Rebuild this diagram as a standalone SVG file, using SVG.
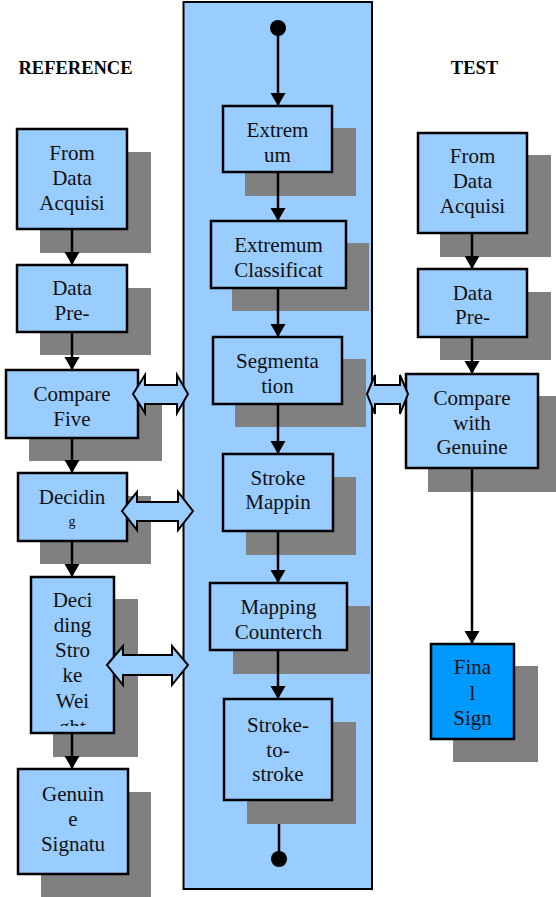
<svg xmlns="http://www.w3.org/2000/svg" width="556" height="897" viewBox="0 0 556 897">
<style>
.shadow{fill:#808080;}
.box{fill:#99CCFF;stroke:#000;stroke-width:2.5;}
.final{fill:#0099FF;stroke:#000;stroke-width:2.5;}
.t{font-family:"Liberation Serif","Times New Roman",serif;font-size:21px;fill:#111;text-anchor:middle;}
.hdr{font-family:"Liberation Serif","Times New Roman",serif;font-size:18.5px;font-weight:bold;fill:#000;text-anchor:middle;}
.conn{stroke:#000;stroke-width:2.5;fill:none;}
.arr{marker-end:url(#ah);}
.dbl{fill:#99CCFF;stroke:#000;stroke-width:2;stroke-linejoin:miter;}
</style>
<defs>
<marker id="ah" markerUnits="userSpaceOnUse" markerWidth="16" markerHeight="16" refX="13" refY="7.5" orient="auto">
<path d="M0,0 L13,7.5 L0,15 z" fill="#000"/>
</marker>
<clipPath id="clipW"><rect x="31" y="577" width="83" height="149"/></clipPath>
</defs>
<rect width="556" height="897" fill="#fff"/>

<text class="hdr" x="75.5" y="74">REFERENCE</text>
<text class="hdr" x="474.5" y="74">TEST</text>

<g id="panel">
<rect x="183.5" y="2" width="188.5" height="887" fill="#99CCFF" stroke="#000" stroke-width="2"/>
<circle cx="278" cy="28" r="8" fill="#000"/>
<circle cx="279" cy="859" r="8" fill="#000"/>
</g>

<g id="shadows">
<rect class="shadow" x="40" y="152" width="111" height="101"/>
<rect class="shadow" x="40" y="288" width="111" height="67"/>
<rect class="shadow" x="29" y="393" width="133" height="68"/>
<rect class="shadow" x="40" y="496" width="111" height="68"/>
<rect class="shadow" x="53" y="599" width="85" height="158"/>
<rect class="shadow" x="41" y="792" width="110" height="105"/>
<rect class="shadow" x="245" y="128" width="111" height="68"/>
<rect class="shadow" x="232" y="243" width="137" height="68"/>
<rect class="shadow" x="235" y="359" width="131" height="68"/>
<rect class="shadow" x="246" y="477" width="110" height="78"/>
<rect class="shadow" x="233" y="606" width="137" height="68"/>
<rect class="shadow" x="247" y="722" width="109" height="102"/>
<rect class="shadow" x="440" y="155" width="111" height="102"/>
<rect class="shadow" x="440" y="292" width="111" height="68"/>
<rect class="shadow" x="428" y="396" width="128" height="96"/>
<rect class="shadow" x="453" y="666" width="85" height="96"/>
</g>

<g id="connectors">
<line class="conn arr" x1="72" y1="229" x2="72" y2="265"/>
<line class="conn arr" x1="72" y1="332" x2="72" y2="370"/>
<line class="conn arr" x1="72" y1="438" x2="72" y2="473"/>
<line class="conn arr" x1="72" y1="541" x2="72" y2="577"/>
<line class="conn arr" x1="72" y1="733" x2="72" y2="769"/>
<line class="conn arr" x1="278" y1="28" x2="278" y2="106"/>
<line class="conn arr" x1="278" y1="172" x2="278" y2="221"/>
<line class="conn arr" x1="278" y1="288" x2="278" y2="337"/>
<line class="conn arr" x1="278" y1="404" x2="278" y2="454"/>
<line class="conn arr" x1="278" y1="531" x2="278" y2="583"/>
<line class="conn arr" x1="278" y1="650" x2="278" y2="699"/>
<line class="conn" x1="279" y1="824" x2="279" y2="852"/>
<line class="conn arr" x1="472" y1="233" x2="472" y2="269"/>
<line class="conn arr" x1="472" y1="337" x2="472" y2="374"/>
<line class="conn arr" x1="472" y1="468" x2="472" y2="644"/>
</g>

<g id="n-from-ref">
<rect class="box" x="17" y="129" width="110" height="100"/>
<text class="t" x="72" y="160">From</text>
<text class="t" x="72" y="185">Data</text>
<text class="t" x="72" y="210">Acquisi</text>
</g>
<g id="n-pre-ref">
<rect class="box" x="17" y="265" width="110" height="67"/>
<text class="t" x="72" y="295">Data</text>
<text class="t" x="72" y="320">Pre-</text>
</g>
<g id="n-compare-five">
<rect class="box" x="6" y="370" width="132" height="68"/>
<text class="t" x="72" y="401">Compare</text>
<text class="t" x="72" y="426">Five</text>
</g>
<g id="n-deciding">
<rect class="box" x="18" y="473" width="109" height="68"/>
<text class="t" x="72" y="504">Decidin</text>
<text class="t" x="72" y="526" style="font-size:14px">g</text>
</g>
<g id="n-deciding-weight">
<rect class="box" x="31" y="577" width="83" height="156"/>
<g clip-path="url(#clipW)">
<text class="t" x="72.5" y="607">Deci</text>
<text class="t" x="72.5" y="632">ding</text>
<text class="t" x="72.5" y="657">Stro</text>
<text class="t" x="72.5" y="682">ke</text>
<text class="t" x="72.5" y="708">Wei</text>
<text class="t" x="72.5" y="734">ght</text>
</g>
</g>
<g id="n-genuine-sig">
<rect class="box" x="18" y="769" width="110" height="105"/>
<text class="t" x="73" y="801">Genuin</text>
<text class="t" x="73" y="826">e</text>
<text class="t" x="73" y="851">Signatu</text>
</g>

<g id="n-extremum">
<rect class="box" x="223" y="106" width="109" height="66"/>
<text class="t" x="277.5" y="137">Extrem</text>
<text class="t" x="277.5" y="162">um</text>
</g>
<g id="n-extremum-class">
<rect class="box" x="211" y="221" width="135" height="67"/>
<text class="t" x="278.5" y="252">Extremum</text>
<text class="t" x="278.5" y="277">Classificat</text>
</g>
<g id="n-segmentation">
<rect class="box" x="213" y="337" width="129" height="67"/>
<text class="t" x="277.5" y="368">Segmenta</text>
<text class="t" x="277.5" y="393">tion</text>
</g>
<g id="n-stroke-mapping">
<rect class="box" x="223" y="454" width="110" height="77"/>
<text class="t" x="278" y="485">Stroke</text>
<text class="t" x="278" y="509">Mappin</text>
</g>
<g id="n-mapping-counter">
<rect class="box" x="210" y="583" width="137" height="67"/>
<text class="t" x="278.5" y="614">Mapping</text>
<text class="t" x="278.5" y="639">Counterch</text>
</g>
<g id="n-stroke-to-stroke">
<rect class="box" x="224" y="699" width="108" height="101"/>
<text class="t" x="278" y="732">Stroke-</text>
<text class="t" x="278" y="757">to-</text>
<text class="t" x="278" y="781">stroke</text>
</g>

<g id="n-from-test">
<rect class="box" x="418" y="133" width="109" height="100"/>
<text class="t" x="472.5" y="163">From</text>
<text class="t" x="472.5" y="188">Data</text>
<text class="t" x="472.5" y="213">Acquisi</text>
</g>
<g id="n-pre-test">
<rect class="box" x="418" y="269" width="109" height="68"/>
<text class="t" x="472.5" y="300">Data</text>
<text class="t" x="472.5" y="324">Pre-</text>
</g>
<g id="n-compare-genuine">
<rect class="box" x="406" y="374" width="132" height="94"/>
<text class="t" x="472" y="405">Compare</text>
<text class="t" x="472" y="430">with</text>
<text class="t" x="472" y="454">Genuine</text>
</g>
<g id="n-final">
<rect class="final" x="431" y="644" width="83" height="95"/>
<text class="t" x="472.5" y="674">Fina</text>
<text class="t" x="472.5" y="700">l</text>
<text class="t" x="472.5" y="725">Sign</text>
</g>

<g id="double-arrows">
<polygon class="dbl" points="133,394 145,375 145,385 177,385 177,375 188,394 177,413 177,404 145,404 145,413"/>
<polygon class="dbl" points="122,511 137,492 137,502 178,502 178,492 193,511 178,530 178,521 137,521 137,530"/>
<polygon class="dbl" points="107,665 123,646 123,655 172,655 172,646 188,665 172,685 172,675 123,675 123,685"/>
<polygon class="dbl" points="367,394 375,375 375,385 400,385 400,375 408,394 400,414 400,404 375,404 375,414"/>
</g>
</svg>
